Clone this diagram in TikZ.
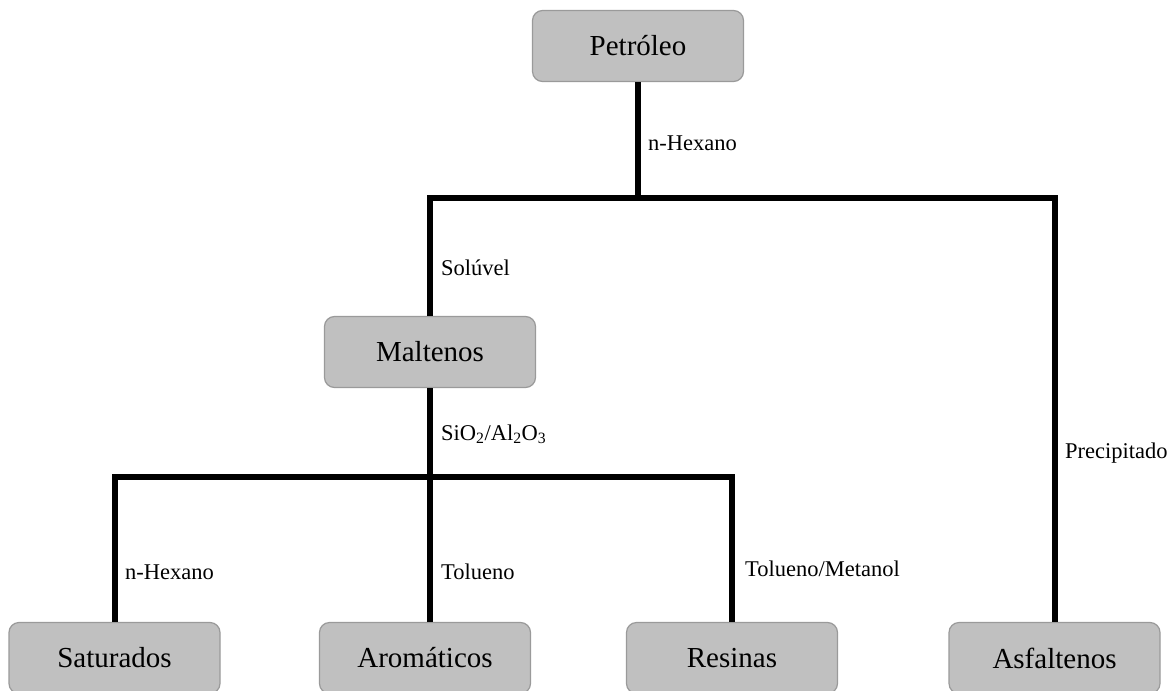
\documentclass[tikz,border=0pt]{standalone}
\usepackage{fontspec}
\setmainfont{Liberation Serif}
\definecolor{boxgray}{HTML}{C0C0C0}
\definecolor{boxedge}{HTML}{9A9A9A}
\begin{document}
\begin{tikzpicture}[x=1pt,y=-1pt,
  box/.style={draw=boxedge, line width=1.2pt, fill=boxgray, rounded corners=10pt,
    minimum width=211pt, minimum height=71pt, inner sep=0pt,
    font=\fontsize{29}{34}\selectfont},
  conn/.style={line width=6pt, line join=miter},
  lbl/.style={font=\fontsize{22.5}{26}\selectfont, anchor=west, inner sep=0pt}]
\useasboundingbox (0,0) rectangle (1174,690);
\clip (0,0) rectangle (1174,690);
\fill[white] (0,0) rectangle (1174,690);
% nodes
\node[box] (pet) at (638,46) {Petróleo};
\node[box] (mal) at (430,352) {Maltenos};
\node[box] (sat) at (114.5,658) {Saturados};
\node[box] (aro) at (425,658) {Aromáticos};
\node[box] (res) at (732,658) {Resinas};
\node[box] (asf) at (1054.5,658) {Asfaltenos};
% junctions
\coordinate (j1) at (638,198);
\coordinate (cl) at (430,198);
\coordinate (cr) at (1054.5,198);
\coordinate (j2) at (430,477);
\coordinate (c3) at (114.5,477);
\coordinate (c4) at (732,477);
% connectors
\draw[conn] (pet.south) -- (j1);
\draw[conn] (mal.north) -- (cl) -- (cr) -- (asf.north);
\draw[conn] (mal.south) -- (mal.south |- aro.north);
\draw[conn] (sat.north) -- (c3) -- (c4) -- (res.north);
% labels
\node[lbl] (l1) at (648,143) {n-Hexano};
\node[lbl] (l2) at (441,268) {Solúvel};
\node[lbl] (l3) at (441,434) {SiO\textsubscript{2}/Al\textsubscript{2}O\textsubscript{3}};
\node[lbl] (l4) at (1065,453) {Precipitado};
\node[lbl] (l5) at (125,572) {n-Hexano};
\node[lbl] (l6) at (441,572) {Tolueno};
\node[lbl] (l7) at (745,569) {Tolueno/Metanol};
\end{tikzpicture}
\end{document}
